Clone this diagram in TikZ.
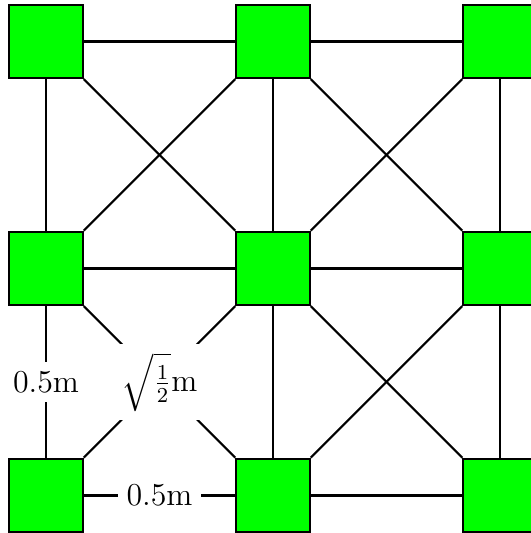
\documentclass[tikz,border=0pt]{standalone}
\usepackage{amsmath}
\usepackage{xcolor}
\usepackage{tikz}
\usetikzlibrary{positioning}

\begin{document}
\begin{tikzpicture}[node distance=3cm and 3cm, on grid, sq/.style={draw, thick, fill=green, minimum size=9.7mm},
  lbl/.style={fill=white, font=\large}, thick]
  \useasboundingbox (-0.608,0.548) rectangle (6.409,-6.496);
  \node[sq] (tl) {};
  \node[sq, right=of tl] (tm) {};
  \node[sq, right=of tm] (tr) {};
  \node[sq, below=of tl] (ml) {};
  \node[sq, right=of ml] (mc) {};
  \node[sq, right=of mc] (mr) {};
  \node[sq, below=of ml] (bl) {};
  \node[sq, right=of bl] (bm) {};
  \node[sq, right=of bm] (br) {};
  \draw (tl) -- (tm); \draw (tm) -- (tr); \draw (ml) -- (mc); \draw (mc) -- (mr); \draw (bm) -- (br);
  \draw (tl) -- (ml); \draw (tm) -- (mc); \draw (tr) -- (mr); \draw (mc) -- (bm); \draw (mr) -- (br);
  \draw (tl) -- (mc); \draw (tm) -- (ml); \draw (tm) -- (mr); \draw (tr) -- (mc);
  \draw (mc) -- (br); \draw (mr) -- (bm); \draw (mc) -- (bl);
  \draw (ml) -- node[lbl] {$\sqrt{\frac{1}{2}}$m} (bm);
  \draw (ml) -- node[lbl] {0.5m} (bl);
  \draw (bl) -- node[lbl] {0.5m} (bm);
\end{tikzpicture}
\end{document}
